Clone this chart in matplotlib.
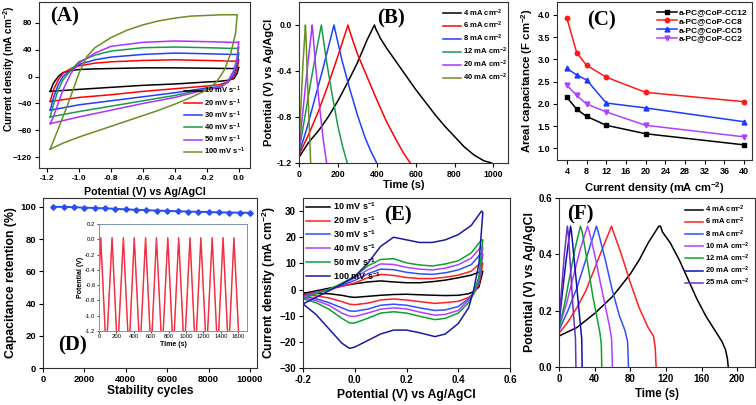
import numpy as np
import matplotlib
matplotlib.use("Agg")
import matplotlib.pyplot as plt

plt.rcParams['font.family'] = ['Liberation Sans', 'DejaVu Sans']
plt.rcParams['font.weight'] = 'bold'
plt.rcParams['axes.labelweight'] = 'bold'
plt.rcParams['mathtext.fontset'] = 'custom'
plt.rcParams['mathtext.rm'] = 'Liberation Sans:bold'
plt.rcParams['mathtext.bf'] = 'Liberation Sans:bold'
plt.rcParams['mathtext.default'] = 'bf'
plt.rcParams['axes.linewidth'] = 0.8

# ---------------- data ----------------
# (A) CV of negative electrode, closed loops
a_rates = ["10 mV s$^{-1}$", "20 mV s$^{-1}$", "30 mV s$^{-1}$",
           "40 mV s$^{-1}$", "50 mV s$^{-1}$", "100 mV s$^{-1}$"]
a_v = [-1.18, -1.16, -1.13, -1.10, -1.05, -1.0, -0.9, -0.8, -0.6, -0.4, -0.2, -0.05, -0.01, 0.0,
       -0.01, -0.03, -0.07, -0.12, -0.2, -0.4, -0.6, -0.8, -1.0, -1.18]
a_j10 = [-22, -10, 0, 6, 9, 10.5, 11.5, 12, 13, 13, 12.5, 12, 12, 14,
         5, -3, -5.5, -7, -8, -11, -13, -16, -19, -22]
a_j20 = [-37, -20, -5, 5, 12, 16, 20, 22, 24, 25, 24, 23, 23, 25,
         12, 0, -8, -12, -14, -18, -22, -27, -31, -37]
a_j30 = [-50, -32, -12, 0, 10, 18, 25, 29, 33, 35, 34, 33, 33, 35,
         18, 3, -9, -15, -17, -24, -30, -36, -42, -50]
a_j40 = [-60, -42, -20, -5, 10, 22, 32, 38, 43, 44, 43, 42, 42, 44,
         25, 8, -8, -16, -18, -28, -36, -44, -52, -60]
a_j50 = [-70, -60, -40, -20, 5, 20, 35, 45, 51, 53, 52, 51, 51, 52,
         30, 10, -8, -17, -19, -31, -40, -50, -60, -70]
a_v100 = [-1.18, -1.12, -1.06, -1.0, -0.95, -0.9, -0.8, -0.7, -0.6, -0.5, -0.4, -0.3, -0.2, -0.1,
          -0.03, -0.01, -0.02, -0.05, -0.09, -0.14, -0.2, -0.3, -0.4, -0.5, -0.6, -0.7, -0.8,
          -0.9, -1.0, -1.1, -1.18]
a_j100 = [-108, -72, -35, 5, 30, 43, 58, 69, 77, 83, 87, 90, 91, 92,
          92, 92, 65, 35, 10, -8, -20, -31, -41, -50, -58, -66, -74,
          -82, -90, -99, -108]

# (B) GCD of negative electrode
b_labels = ["4 mA cm$^{-2}$", "6 mA cm$^{-2}$", "8 mA cm$^{-2}$",
            "12 mA cm$^{-2}$", "20 mA cm$^{-2}$", "40 mA cm$^{-2}$"]
b_t4 = [0, 50, 100, 150, 200, 250, 300, 350, 388, 394, 420, 450, 500, 550, 600, 650, 700, 750, 800, 850, 900, 950, 990]
b_e4 = [-1.15, -1.02, -0.92, -0.8, -0.66, -0.5, -0.33, -0.13, 0.0, -0.03, -0.12, -0.2, -0.32, -0.44, -0.56, -0.67, -0.78, -0.88, -0.97, -1.06, -1.13, -1.18, -1.2]
b_t6 = [0, 50, 100, 150, 200, 252, 258, 300, 350, 400, 450, 500, 540, 572]
b_e6 = [-1.13, -0.95, -0.75, -0.52, -0.27, 0.0, -0.04, -0.25, -0.45, -0.65, -0.84, -1.0, -1.12, -1.2]
b_t8 = [0, 40, 80, 120, 150, 180, 185, 220, 260, 300, 340, 370, 400]
b_e8 = [-1.12, -0.9, -0.65, -0.4, -0.2, 0.0, -0.04, -0.3, -0.55, -0.78, -0.98, -1.1, -1.2]
b_t12 = [0, 30, 60, 90, 115, 119, 140, 170, 200, 225, 248]
b_e12 = [-1.1, -0.8, -0.5, -0.22, 0.0, -0.05, -0.3, -0.6, -0.88, -1.06, -1.2]
b_t20 = [0, 20, 40, 68, 71, 85, 105, 125, 142]
b_e20 = [-1.08, -0.75, -0.42, 0.0, -0.05, -0.35, -0.7, -1.0, -1.2]
b_t40 = [0, 10, 20, 33, 36, 44, 52, 60]
b_e40 = [-1.05, -0.7, -0.35, 0.0, -0.1, -0.5, -0.85, -1.2]

# (C) areal capacitance
c_density = [4, 6, 8, 12, 20, 40]
c_cc12 = [2.15, 1.88, 1.72, 1.52, 1.33, 1.08]
c_cc8 = [3.93, 3.15, 2.87, 2.60, 2.26, 2.05]
c_cc5 = [2.80, 2.65, 2.54, 2.02, 1.91, 1.60]
c_cc2 = [2.42, 2.19, 2.00, 1.82, 1.52, 1.26]

# (D) cycling stability
d_cycles = [500, 1000, 1500, 2000, 2500, 3000, 3500, 4000, 4500, 5000,
            5500, 6000, 6500, 7000, 7500, 8000, 8500, 9000, 9500, 10000]
d_retention = [100, 100, 99.8, 99.5, 99.3, 99.1, 98.8, 98.4, 98.2, 97.9,
               97.7, 97.5, 97.3, 97.1, 96.9, 96.8, 96.6, 96.5, 96.4, 96.3]
d_inset_t = [0, 20, 83, 150, 213, 280, 343, 405, 470, 535, 598, 660, 725, 790,
             853, 915, 980, 1045, 1108, 1170, 1235, 1300, 1363, 1425, 1488, 1550, 1615]
d_inset_e = [-0.55, 0.02, -1.5, 0.02, -1.5, 0.02, -1.5, 0.02, -1.5, 0.02, -1.5, 0.02, -1.5, 0.02,
             -1.5, 0.02, -1.5, 0.02, -1.5, 0.02, -1.5, 0.02, -1.5, 0.02, -1.5, 0.02, -1.5]

# (E) CV of positive electrode, closed loops
e_rates = ["10 mV s$^{-1}$", "20 mV s$^{-1}$", "30 mV s$^{-1}$",
           "40 mV s$^{-1}$", "50 mV s$^{-1}$", "100 mV s$^{-1}$"]
e_v = [-0.2, -0.15, -0.1, -0.05, 0.0, 0.05, 0.1, 0.15, 0.2, 0.25, 0.3, 0.35, 0.4, 0.45, 0.49,
       0.495, 0.48, 0.46, 0.44, 0.4, 0.35, 0.31, 0.25, 0.2, 0.15, 0.1, 0.05, 0.0, -0.02, -0.05,
       -0.1, -0.15, -0.2]
e_j10 = [-1.5, -0.5, 0.5, 1.4, 2.2, 2.9, 3.3, 2.9, 2.6, 2.6, 3.0, 3.6, 4.5, 5.5, 7.0,
         7.0, 1.0, -0.8, -1.6, -2.2, -2.3, -2.2, -2.0, -1.8, -1.9, -2.2, -2.6, -3.0, -2.8, -2.2,
         -1.6, -1.5, -1.5]
e_j20 = [-2.0, -1.0, 0.0, 1.2, 2.5, 4.5, 5.8, 5.4, 4.6, 4.2, 4.2, 4.7, 5.5, 7.0, 10.5,
         10.0, 2.0, -1.5, -3.0, -4.5, -5.0, -5.3, -4.6, -4.0, -3.6, -4.0, -5.2, -5.8, -5.6, -4.6,
         -3.2, -2.4, -2.0]
e_j30 = [-2.5, -1.2, 0.0, 1.6, 3.5, 6.0, 7.8, 7.6, 6.6, 6.0, 5.8, 6.4, 7.5, 9.5, 14.0,
         13.5, 3.0, -1.5, -3.5, -6.5, -7.8, -8.0, -7.0, -6.0, -5.6, -6.0, -7.5, -8.3, -8.2, -7.0,
         -5.0, -3.5, -2.5]
e_j40 = [-3.0, -1.4, 0.0, 2.0, 4.5, 7.5, 9.8, 9.6, 8.5, 7.8, 7.5, 8.2, 9.5, 12.0, 16.5,
         16.0, 4.0, -1.5, -4.0, -8.0, -9.5, -9.8, -8.6, -7.4, -7.0, -7.5, -9.0, -10.3, -10.2, -9.0,
         -6.0, -4.2, -3.0]
e_j50 = [-3.5, -1.6, 0.0, 2.4, 5.0, 9.0, 11.5, 11.8, 10.2, 9.4, 9.0, 9.8, 11.0, 14.0, 19.0,
         19.0, 5.0, -1.5, -5.0, -9.0, -11.0, -11.5, -10.2, -9.0, -8.5, -9.0, -11.0, -12.8, -12.8, -11.0,
         -7.5, -5.0, -3.5]
e_j100 = [-5.5, -3.0, -0.5, 2.0, 5.0, 10.0, 16.5, 20.0, 19.0, 18.0, 18.0, 19.0, 21.0, 24.5, 30.0,
          29.5, 10.0, 0.0, -7.0, -13.0, -17.0, -18.0, -16.5, -15.5, -15.5, -17.0, -19.5, -22.0, -22.5, -20.5,
          -15.0, -9.5, -5.5]

# (F) GCD of positive electrode
f_labels = ["4 mA cm$^{-2}$", "6 mA cm$^{-2}$", "8 mA cm$^{-2}$", "10 mA cm$^{-2}$",
            "12 mA cm$^{-2}$", "20 mA cm$^{-2}$", "25 mA cm$^{-2}$"]
f_t4 = [0, 20, 40, 60, 80, 90, 100, 108, 112, 114, 116, 125, 135, 145, 155, 165, 175, 183, 187, 189, 190]
f_e4 = [0.11, 0.14, 0.19, 0.25, 0.33, 0.38, 0.44, 0.48, 0.50, 0.50, 0.48, 0.44, 0.38, 0.31, 0.24, 0.18, 0.13, 0.09, 0.06, 0.03, 0.0]
f_t6 = [0, 10, 20, 30, 40, 50, 59, 61, 70, 80, 90, 100, 106, 108, 109]
f_e6 = [0.12, 0.16, 0.21, 0.27, 0.35, 0.43, 0.50, 0.48, 0.40, 0.30, 0.21, 0.14, 0.11, 0.07, 0.0]
f_t8 = [0, 10, 20, 30, 38, 42, 44, 52, 60, 68, 74, 77, 78]
f_e8 = [0.13, 0.20, 0.28, 0.38, 0.46, 0.50, 0.48, 0.38, 0.27, 0.18, 0.13, 0.09, 0.0]
f_t10 = [0, 8, 16, 24, 32, 34, 40, 47, 53, 57, 59, 60]
f_e10 = [0.14, 0.22, 0.32, 0.42, 0.50, 0.48, 0.40, 0.29, 0.20, 0.14, 0.10, 0.0]
f_t12 = [0, 6, 12, 18, 24, 26, 32, 38, 43, 46, 47.5, 48]
f_e12 = [0.14, 0.22, 0.32, 0.42, 0.50, 0.48, 0.37, 0.25, 0.17, 0.12, 0.08, 0.0]
f_t20 = [0, 4, 8, 13, 14, 18, 21, 24, 25.5, 26]
f_e20 = [0.15, 0.27, 0.38, 0.50, 0.48, 0.35, 0.25, 0.15, 0.10, 0.0]
f_t25 = [0, 3, 6, 9.4, 10.5, 13, 15.5, 17.5, 18.5, 19]
f_e25 = [0.16, 0.28, 0.40, 0.50, 0.47, 0.35, 0.22, 0.14, 0.10, 0.0]

W, H = 756, 405
fig = plt.figure(figsize=(W / 100, H / 100), dpi=100)


def add_ax(l, t, r, b):
    return fig.add_axes([l / W, 1 - b / H, (r - l) / W, (b - t) / H])


def style(ax, size):
    ax.tick_params(direction='out', length=3, width=0.8, labelsize=size,
                   top=False, right=False, pad=2)
    for s in ax.spines.values():
        s.set_color('#333333')


def panel_label(ax, txt, x, y):
    ax.text(x, y, txt, transform=ax.transAxes, fontsize=15, fontweight='bold',
            family='Liberation Serif', ha='center', va='center')


# ---- (A)
ax = add_ax(39, 2, 250, 168)
cols_a = ['black', '#ff0000', '#1f3fff', '#1a9a4a', '#b030ff', '#6b8e23']
for j, c, lab in zip([a_j10, a_j20, a_j30, a_j40, a_j50], cols_a[:5], a_rates[:5]):
    ax.plot(a_v, j, color=c, lw=1.1, label=lab)
ax.plot(a_v100, a_j100, color=cols_a[5], lw=1.1, label=a_rates[5])
ax.set_xlim(-1.25, 0.07)
ax.set_ylim(-136, 111)
ax.set_xticks(np.arange(-1.2, 0.01, 0.2))
ax.set_xticklabels(['-1.2', '-1.0', '-0.8', '-0.6', '-0.4', '-0.2', '0.0'])
ax.set_yticks([-120, -80, -40, 0, 40, 80])
style(ax, 6)
ax.set_xlabel('Potential (V) vs Ag/AgCl', fontsize=7.7, labelpad=4)
ax.set_ylabel('Current density (mA cm$^{-2}$)', fontsize=7.2)
ax.yaxis.set_label_coords(-0.105, 0.6)
ax.legend(loc='lower right', bbox_to_anchor=(1.0, 0.04), frameon=False, fontsize=5.5,
          handlelength=2.4, labelspacing=0.1, borderpad=0.1, handletextpad=0.3)
panel_label(ax, '(A)', 0.12, 0.91)

# ---- (B)
ax = add_ax(299, 2, 508, 163)
cols_b = ['black', '#ff0000', '#1f3fff', '#1a9a4a', '#b030ff', '#6b8e23']
for t, e, c, lab in zip([b_t4, b_t6, b_t8, b_t12, b_t20, b_t40],
                        [b_e4, b_e6, b_e8, b_e12, b_e20, b_e40], cols_b, b_labels):
    ax.plot(t, e, color=c, lw=1.1, label=lab)
ax.set_xlim(0, 1075)
ax.set_ylim(-1.2, 0.2)
ax.set_xticks([0, 200, 400, 600, 800, 1000])
ax.set_yticks([-1.2, -0.8, -0.4, 0.0])
ax.set_yticklabels(['-1.2', '-0.8', '-0.4', '0.0'])
style(ax, 6.3)
ax.set_xlabel('Time (s)', fontsize=7.8, labelpad=1)
ax.set_ylabel('Potential (V) vs Ag/AgCl', fontsize=8, labelpad=2)
ax.legend(loc='upper right', bbox_to_anchor=(1.02, 1.0), frameon=False, fontsize=5.5,
          handlelength=2.4, labelspacing=0.2, borderpad=0.2, handletextpad=0.2)
panel_label(ax, '(B)', 0.44, 0.9)

# ---- (C)
ax = add_ax(557, 2, 752, 160)
ax.plot(c_density, c_cc12, '-s', color='black', lw=1.1, ms=3.2, label='a-PC@CoP-CC12')
ax.plot(c_density, c_cc8, '-o', color='#ff1a1a', lw=1.1, ms=3.2, label='a-PC@CoP-CC8')
ax.plot(c_density, c_cc5, '-^', color='#1a3aff', lw=1.1, ms=3.5, label='a-PC@CoP-CC5')
ax.plot(c_density, c_cc2, '-v', color='#b040ff', lw=1.1, ms=3.5, label='a-PC@CoP-CC2')
ax.set_xlim(2, 41.6)
ax.set_ylim(0.74, 4.29)
ax.set_xticks(np.arange(4, 41, 4))
ax.set_yticks([1.0, 1.5, 2.0, 2.5, 3.0, 3.5, 4.0])
style(ax, 6.5)
ax.set_xlabel('Current density (mA cm$^{-2}$)', fontsize=8, labelpad=3)
ax.set_ylabel('Areal capacitance (F cm$^{-2}$)', fontsize=8.2, labelpad=2)
ax.legend(loc='upper right', bbox_to_anchor=(1.01, 1.0), frameon=False, fontsize=6,
          handlelength=2.4, labelspacing=0.1, borderpad=0.3, handletextpad=0.2)
panel_label(ax, '(C)', 0.23, 0.88)

# ---- (D)
ax = add_ax(43, 198, 257, 368)
ax.plot(d_cycles, d_retention, '-D', color='#2a4ff0', lw=1.4, ms=2.8)
ax.set_xlim(0, 10340)
ax.set_ylim(0, 105.5)
ax.set_xticks([0, 2000, 4000, 6000, 8000, 10000])
ax.set_yticks([0, 20, 40, 60, 80, 100])
style(ax, 6.8)
ax.set_xlabel('Stability cycles', fontsize=8.6, labelpad=1)
ax.set_ylabel('Capacitance retention (%)', fontsize=8.8, labelpad=2)
panel_label(ax, '(D)', 0.14, 0.13)

ins = add_ax(99, 224, 247, 331)
ins.plot(d_inset_t, d_inset_e, color='#ff1010', lw=1.0)
ins.plot(d_inset_t, d_inset_e, color='#d070c0', lw=0.4, alpha=0.6)
ins.set_xlim(0, 1700)
ins.set_ylim(-1.2, 0.2)
ins.set_xticks(np.arange(0, 1601, 200))
ins.set_yticks([-1.2, -1.0, -0.8, -0.6, -0.4, -0.2, 0.0, 0.2])
ins.set_yticklabels(['-1.2', '-1.0', '-0.8', '-0.6', '-0.4', '-0.2', '0.0', '0.2'])
ins.tick_params(direction='out', length=1.5, width=0.5, labelsize=4.3, pad=1)
for lab in ins.get_xticklabels() + ins.get_yticklabels():
    lab.set_fontweight('normal')
for s in ins.spines.values():
    s.set_color('#7f8fb0')
    s.set_linewidth(0.7)
ins.set_xlabel('Time (s)', fontsize=5, labelpad=1)
ins.set_ylabel('Potential (V)', fontsize=5, labelpad=1)

# ---- (E)
ax = add_ax(303, 198, 510, 368)
cols_e = ['black', '#ff2020', '#3050ff', '#b040ff', '#10a030', '#1a1aa0']
for j, c, lab in zip([e_j10, e_j20, e_j30, e_j40, e_j50, e_j100], cols_e, e_rates):
    ax.plot(e_v, j, color=c, lw=1.1, label=lab)
ax.set_xlim(-0.2, 0.6)
ax.set_ylim(-30, 35)
ax.set_xticks([-0.2, 0.0, 0.2, 0.4, 0.6])
ax.set_xticklabels(['-0.2', '0.0', '0.2', '0.4', '0.6'])
ax.set_yticks([-30, -20, -10, 0, 10, 20, 30])
style(ax, 7)
ax.set_xlabel('Potential (V) vs Ag/AgCl', fontsize=8.7, labelpad=3)
ax.set_ylabel('Current density (mA cm$^{-2}$)', fontsize=8.7, labelpad=1)
ax.legend(loc='upper left', bbox_to_anchor=(-0.01, 1.02), frameon=False, fontsize=6.5,
          handlelength=2.6, labelspacing=0.25, borderpad=0.1, handletextpad=0.3)
panel_label(ax, '(E)', 0.46, 0.9)

# ---- (F)
ax = add_ax(559, 198, 755, 367)
cols_f = ['black', '#ff2020', '#3050ff', '#b040ff', '#10a030', '#1010b0', '#6a30c0']
for t, e, c, lab in zip([f_t4, f_t6, f_t8, f_t10, f_t12, f_t20, f_t25],
                        [f_e4, f_e6, f_e8, f_e10, f_e12, f_e20, f_e25], cols_f, f_labels):
    ax.plot(t, e, color=c, lw=1.1, label=lab)
ax.set_xlim(0, 220)
ax.set_ylim(0, 0.6)
ax.set_xticks([0, 40, 80, 120, 160, 200])
ax.set_yticks([0.0, 0.2, 0.4, 0.6])
style(ax, 7)
ax.set_xlabel('Time (s)', fontsize=8.3, labelpad=3)
ax.set_ylabel('Potential (V) vs Ag/AgCl', fontsize=8.8, labelpad=2)
ax.legend(loc='upper right', bbox_to_anchor=(1.0, 1.0), frameon=False, fontsize=5.5,
          handlelength=2.4, labelspacing=0.1, borderpad=0.3, handletextpad=0.2)
panel_label(ax, '(F)', 0.11, 0.9)

fig.savefig('out.png', dpi=100)
